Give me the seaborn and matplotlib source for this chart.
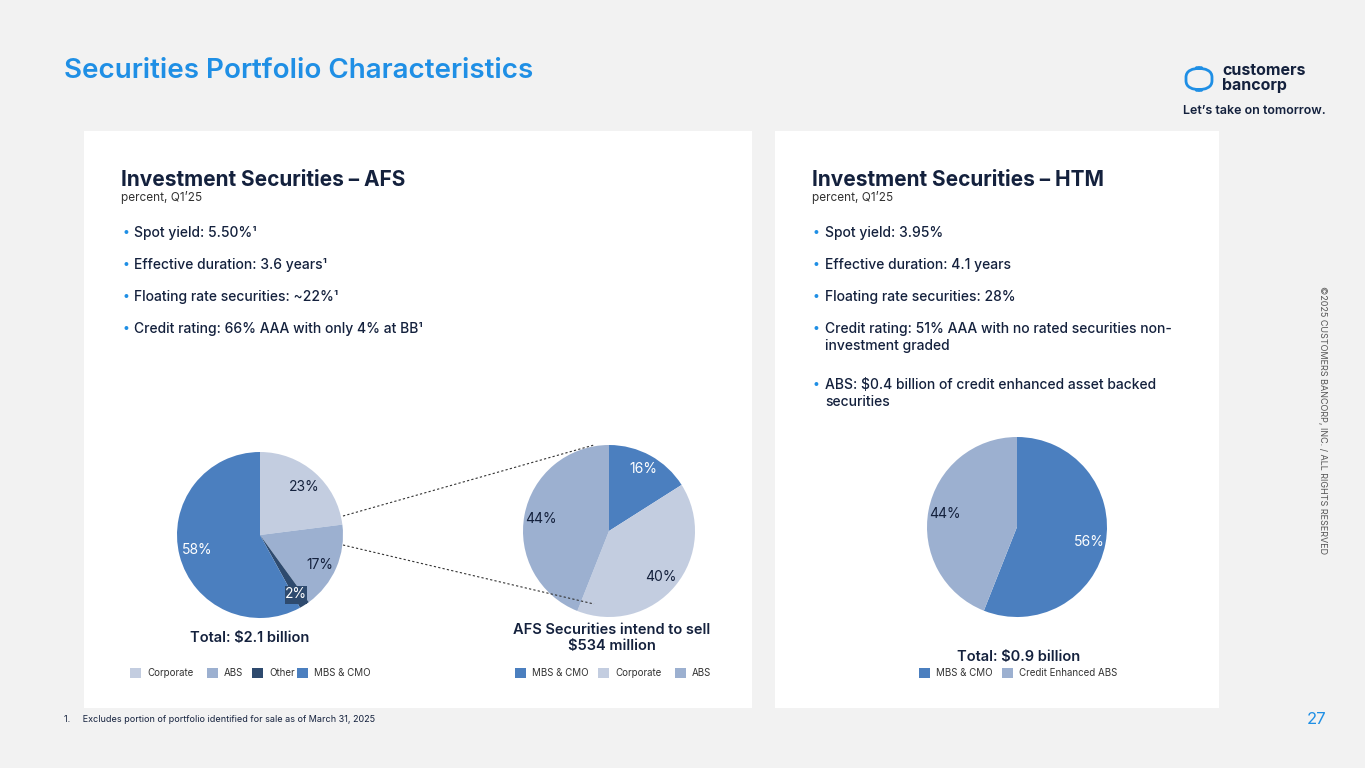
import matplotlib
matplotlib.use("Agg")
import matplotlib.pyplot as plt
import seaborn as sns
from matplotlib.patches import Rectangle, FancyBboxPatch
import numpy as np

sns.set_theme(style="white")
plt.rcParams['font.family'] = ['Inter', 'DejaVu Sans']

W, H = 1365, 768
afs_labels = ["Corporate", "ABS", "Other", "MBS & CMO"]
afs_values = [23, 17, 2, 58]
sell_labels = ["MBS & CMO", "Corporate", "ABS"]
sell_values = [16, 40, 44]
htm_labels = ["MBS & CMO", "Credit Enhanced ABS"]
htm_values = [56, 44]

C_CORP, C_ABS, C_OTHER, C_MBS = "#c3cde0", "#9cb0d0", "#2e4a6e", "#4b7fbf"
NAVY = "#14213d"

fig = plt.figure(figsize=(W/100, H/100), dpi=100, facecolor="#f2f2f2")

def T(x, y, s, **kw):
    kw.setdefault("zorder", 10)
    fig.text(x/W, 1-y/H, s, **kw)

def panel(x0, y0, x1, y1):
    fig.patches.append(Rectangle((x0/W, 1-y1/H), (x1-x0)/W, (y1-y0)/H,
                                 transform=fig.transFigure, facecolor="white", edgecolor="none", zorder=-5))
panel(84, 131, 752, 708)
panel(775, 131, 1219, 708)

T(64, 71, "Securities Portfolio Characteristics", fontsize=20, color="#1f8fe5", fontweight="semibold", va="center")
T(1222, 78, "customers\nbancorp", fontsize=11.5, color=NAVY, fontweight="bold", va="center", linespacing=0.95)
fig.patches.append(FancyBboxPatch((1186/W, 1-90/H), 26/W, 22/H, boxstyle="round,pad=0,rounding_size=0.012",
                                  transform=fig.transFigure, facecolor="none", edgecolor="#1f8fe5", lw=2))
T(1326, 111, "Let’s take on tomorrow.", fontsize=9, color=NAVY, fontweight="semibold", ha="right", va="center")
T(1322, 420, "©2025 CUSTOMERS BANCORP, INC. / ALL RIGHTS RESERVED", fontsize=6.5, color="#555555",
  rotation=270, ha="center", va="center")
T(1326, 719, "27", fontsize=12, color="#1f8fe5", ha="right", va="center")
T(64, 719, "1.     Excludes portion of portfolio identified for sale as of March 31, 2025", fontsize=6.5, color=NAVY, va="center")

def heading(x, title, bullets):
    T(x, 180, title, fontsize=15, fontweight="bold", color=NAVY, va="center")
    T(x, 198, "percent, Q1’25", fontsize=8.5, color="#333333", va="center")
    for y, b in bullets:
        T(x+1, y+7, "•", fontsize=9, color="#1f8fe5", va="center")
        T(x+13, y, b, fontsize=10, color=NAVY, fontweight="medium", va="top", linespacing=1.3)

heading(121, "Investment Securities – AFS", [
    (226, "Spot yield: 5.50%¹"), (258, "Effective duration: 3.6 years¹"),
    (290, "Floating rate securities: ~22%¹"), (322, "Credit rating: 66% AAA with only 4% at BB¹")])
heading(812, "Investment Securities – HTM", [
    (226, "Spot yield: 3.95%"), (258, "Effective duration: 4.1 years"),
    (290, "Floating rate securities: 28%"),
    (322, "Credit rating: 51% AAA with no rated securities non-\ninvestment graded"),
    (378, "ABS: $0.4 billion of credit enhanced asset backed\nsecurities")])

def pie(cx, cy, r, vals, cols, labels_pos, lblcols):
    ax = fig.add_axes([(cx-r)/W, 1-(cy+r)/H, 2*r/W, 2*r/H], zorder=2)
    ax.patch.set_alpha(0)
    ax.pie(vals, colors=cols, startangle=90, counterclock=False, radius=1,
           wedgeprops=dict(linewidth=0))
    ax.set_xlim(-1, 1); ax.set_ylim(-1, 1); ax.set_aspect("auto"); ax.axis("off")
    for (px, py), v, c in zip(labels_pos, vals, lblcols):
        T(px, py, f"{v}%", fontsize=10, color=c, ha="center", va="center")
    return ax

fig.patches.append(Rectangle((285/W, 1-604/H), 22/W, 18/H, transform=fig.transFigure,
                             facecolor=C_OTHER, edgecolor="none", zorder=5))
pie(260, 535, 83, afs_values, [C_CORP, C_ABS, C_OTHER, C_MBS],
    [(304, 487), (320, 565), (296, 594), (197, 550)], [NAVY, NAVY, "white", "white"])
pie(609, 531, 86, sell_values, [C_MBS, C_CORP, C_ABS],
    [(643, 469), (661, 577), (541, 519)], ["white", NAVY, NAVY])
pie(1017, 527, 90, htm_values, [C_MBS, C_ABS],
    [(1089, 542), (945, 514)], ["white", NAVY])

for (x0, y0, x1, y1) in [(343, 516, 594, 445), (343, 545, 594, 604)]:
    fig.add_artist(plt.Line2D([x0/W, x1/W], [1-y0/H, 1-y1/H], transform=fig.transFigure,
                              color="#333333", lw=0.8, ls=(0, (2, 2)), zorder=3))

T(250, 638, "Total: $2.1 billion", fontsize=10.5, fontweight="semibold", color=NAVY, ha="center", va="center")
T(612, 638, "AFS Securities intend to sell\n$534 million", fontsize=10.5, fontweight="semibold",
  color=NAVY, ha="center", va="center", linespacing=1.1)
T(1019, 657, "Total: $0.9 billion", fontsize=10.5, fontweight="semibold", color=NAVY, ha="center", va="center")

def legend(y, items):
    for lx, lab, c in items:
        fig.patches.append(Rectangle((lx/W, 1-(y+5)/H), 11/W, 10/H, transform=fig.transFigure,
                                     facecolor=c, edgecolor="none", zorder=4))
        T(lx+17, y, lab, fontsize=7, color="#333333", va="center")

legend(673, [(130, "Corporate", C_CORP), (207, "ABS", C_ABS), (252, "Other", C_OTHER), (297, "MBS & CMO", C_MBS)])
legend(673, [(515, "MBS & CMO", C_MBS), (598, "Corporate", C_CORP), (675, "ABS", C_ABS)])
legend(673, [(919, "MBS & CMO", C_MBS), (1002, "Credit Enhanced ABS", C_ABS)])

fig.savefig("out.png", dpi=100, facecolor=fig.get_facecolor())
